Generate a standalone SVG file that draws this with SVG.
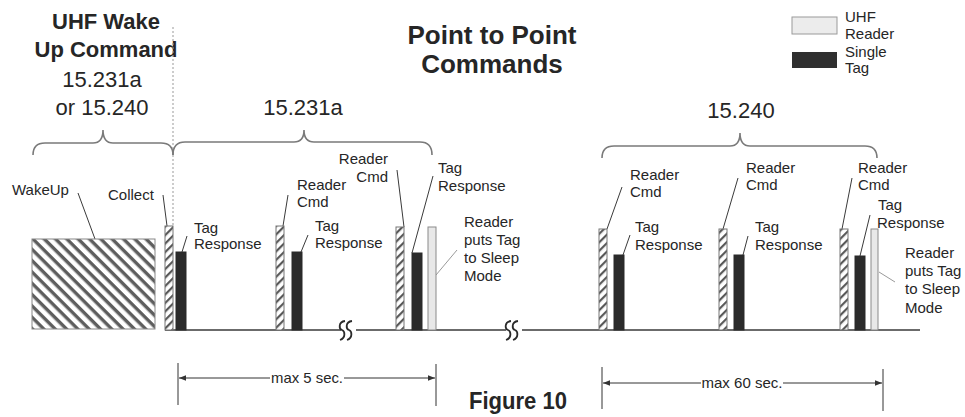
<svg xmlns="http://www.w3.org/2000/svg" width="965" height="417" viewBox="0 0 965 417">
<defs>
<style>
text{font-family:"Liberation Sans",Arial,sans-serif;fill:#262626}
.lbl{font-size:15px}
.big{font-size:22px}
.hd{font-size:22px;font-weight:bold}
.ttl{font-size:26px;font-weight:bold}
.dim{font-size:15px}
.lead{stroke:#3a3a3a;stroke-width:1;fill:none}
.leadl{stroke:#9a9a9a;stroke-width:1;fill:none}
.brace{stroke:#7a7a7a;stroke-width:1.6;fill:none}
.cmd{fill:url(#hatchSmall);stroke:#777;stroke-width:1}
.tag{fill:#2b2b2b;stroke:#2b2b2b;stroke-width:1}
.sleep{fill:#e8e8e8;stroke:#8a8a8a;stroke-width:1}
.axis{stroke:#3a3a3a;stroke-width:1.3;fill:none}
.brk{stroke:#2a2a2a;stroke-width:1.8;fill:none}
.dl{stroke:#333;stroke-width:1;fill:none}
</style>
<pattern id="hatchBig" patternUnits="userSpaceOnUse" width="10" height="8" patternTransform="rotate(45)">
<rect width="10" height="8" fill="#fff"/><rect width="10" height="3.4" fill="#5e5e5e"/>
</pattern>
<pattern id="hatchSmall" patternUnits="userSpaceOnUse" width="6" height="6" patternTransform="rotate(-45)">
<rect width="6" height="6" fill="#fff"/><rect width="6" height="2.2" fill="#585858"/>
</pattern>
<marker id="arr" viewBox="0 0 10 10" refX="10" refY="5" markerWidth="7" markerHeight="7" orient="auto-start-reverse" markerUnits="userSpaceOnUse">
<path d="M0,1 L10,5 L0,9 Z" fill="#333"/>
</marker>
</defs>
<rect width="965" height="417" fill="#fff"/>

<g id="headings">
<text class="hd" x="106" y="29" text-anchor="middle">UHF Wake</text>
<text class="hd" x="106" y="57" text-anchor="middle">Up Command</text>
<text class="big" x="102" y="87" text-anchor="middle">15.231a</text>
<text class="big" x="102" y="115" text-anchor="middle">or 15.240</text>
<text class="ttl" x="492" y="44" text-anchor="middle">Point to Point</text>
<text class="ttl" x="492" y="73" text-anchor="middle">Commands</text>
<text class="big" x="303" y="115" text-anchor="middle">15.231a</text>
<text class="big" x="741" y="118" text-anchor="middle">15.240</text>
</g>

<g id="legend">
<rect x="792" y="17" width="45" height="17" fill="#ececec" stroke="#9a9a9a" stroke-width="1"/>
<rect x="792" y="52" width="45" height="16" fill="#2f2f2f"/>
<text class="lbl" x="845" y="22">UHF</text>
<text class="lbl" x="845" y="39">Reader</text>
<text class="lbl" x="845" y="57">Single</text>
<text class="lbl" x="845" y="73">Tag</text>
</g>

<g id="connectors">
<line x1="173" y1="27" x2="173" y2="226" stroke="#999" stroke-width="1" stroke-dasharray="2,2"/>
<path class="brace" d="M33,155 Q33,143 45,143 L93,143 Q103,143 103,130 Q103,143 113,143 L161,143 Q173,143 173,155"/>
<path class="brace" d="M173,155 Q173,142 185,142 L294,142 Q304,142 304,130 Q304,142 314,142 L420,142 Q432,142 432,155"/>
<path class="brace" d="M602,158 Q602,146 614,146 L730,146 Q740,146 740,133 Q740,146 750,146 L865,146 Q877,146 877,158"/>
<line class="axis" x1="165" y1="330" x2="341" y2="330"/>
<line class="axis" x1="356" y1="330" x2="506" y2="330"/>
<line class="axis" x1="522" y1="330" x2="920" y2="330"/>
<path class="brk" d="M345,321 C338,322 339,329 342,330 C345,331 346,338 340,340"/>
<path class="brk" d="M352,321 C345,322 346,329 349,330 C352,331 353,338 347,340"/>
<path class="brk" d="M511,321 C504,322 505,329 508,330 C511,331 512,338 506,340"/>
<path class="brk" d="M518,321 C511,322 512,329 515,330 C518,331 519,338 513,340"/>
<path class="lead" d="M78,193 L95,239"/>
<path class="lead" d="M163,195 L167,226"/>
<path class="lead" d="M187,236 L182,252"/>
<path class="lead" d="M288,195 L283,226"/>
<path class="lead" d="M308,235 L301,252"/>
<path class="lead" d="M397,170 L404,227"/>
<path class="lead" d="M433,176 L412,253"/>
<path class="leadl" d="M457,250 L436,275"/>
<path class="lead" d="M622,187 L607,229"/>
<path class="lead" d="M630,235 L623,255"/>
<path class="lead" d="M738,178 L723,229"/>
<path class="lead" d="M748,236 L743,255"/>
<path class="lead" d="M852,178 L842,229"/>
<path class="lead" d="M870,215 L860,256"/>
<path class="leadl" d="M895,282 L879,272"/>
</g>

<g id="wakeup">
<rect x="32" y="239" width="123" height="90" fill="url(#hatchBig)" stroke="#888" stroke-width="1"/>
<text class="lbl" x="12" y="195">WakeUp</text>
</g>
<g id="collect">
<rect class="cmd" x="165" y="226" width="8" height="104"/>
<text class="lbl" x="108" y="200">Collect</text>
</g>
<g id="tag1">
<rect class="tag" x="176" y="252" width="10" height="78"/>
<text class="lbl" x="194" y="233">Tag</text>
<text class="lbl" x="194" y="249">Response</text>
</g>
<g id="cmd2">
<rect class="cmd" x="276" y="226" width="8" height="104"/>
<text class="lbl" x="297" y="190">Reader</text>
<text class="lbl" x="297" y="207">Cmd</text>
</g>
<g id="tag2">
<rect class="tag" x="292" y="252" width="10" height="78"/>
<text class="lbl" x="315" y="231">Tag</text>
<text class="lbl" x="315" y="248">Response</text>
</g>
<g id="cmd3">
<rect class="cmd" x="396" y="227" width="8" height="103"/>
<text class="lbl" x="388" y="164" text-anchor="end">Reader</text>
<text class="lbl" x="388" y="182" text-anchor="end">Cmd</text>
</g>
<g id="tag3">
<rect class="tag" x="412" y="253" width="10" height="77"/>
<text class="lbl" x="438" y="173">Tag</text>
<text class="lbl" x="438" y="191">Response</text>
</g>
<g id="sleep1">
<rect class="sleep" x="428" y="227" width="8" height="103"/>
<text class="lbl" x="464" y="227">Reader</text>
<text class="lbl" x="464" y="245">puts Tag</text>
<text class="lbl" x="464" y="263">to Sleep</text>
<text class="lbl" x="464" y="281">Mode</text>
</g>
<g id="cmdA">
<rect class="cmd" x="599" y="229" width="8" height="101"/>
<text class="lbl" x="630" y="180">Reader</text>
<text class="lbl" x="630" y="197">Cmd</text>
</g>
<g id="tagA">
<rect class="tag" x="614" y="255" width="10" height="75"/>
<text class="lbl" x="635" y="232">Tag</text>
<text class="lbl" x="635" y="250">Response</text>
</g>
<g id="cmdB">
<rect class="cmd" x="719" y="229" width="8" height="101"/>
<text class="lbl" x="746" y="173">Reader</text>
<text class="lbl" x="746" y="190">Cmd</text>
</g>
<g id="tagB">
<rect class="tag" x="734" y="255" width="10" height="75"/>
<text class="lbl" x="755" y="232">Tag</text>
<text class="lbl" x="755" y="250">Response</text>
</g>
<g id="cmdC">
<rect class="cmd" x="840" y="229" width="8" height="101"/>
<text class="lbl" x="858" y="173">Reader</text>
<text class="lbl" x="858" y="190">Cmd</text>
</g>
<g id="tagC">
<rect class="tag" x="855" y="256" width="10" height="74"/>
<text class="lbl" x="878" y="210">Tag</text>
<text class="lbl" x="877" y="228">Response</text>
</g>
<g id="sleep2">
<rect class="sleep" x="871" y="229" width="7" height="101"/>
<text class="lbl" x="905" y="258">Reader</text>
<text class="lbl" x="905" y="276">puts Tag</text>
<text class="lbl" x="905" y="294">to Sleep</text>
<text class="lbl" x="905" y="313">Mode</text>
</g>

<g id="dim5">
<line class="dl" x1="178" y1="363" x2="178" y2="405"/>
<line class="dl" x1="436" y1="364" x2="436" y2="406"/>
<line class="dl" x1="270" y1="378" x2="179" y2="378" marker-end="url(#arr)"/>
<line class="dl" x1="344" y1="378" x2="435" y2="378" marker-end="url(#arr)"/>
<text class="dim" x="307" y="383" text-anchor="middle" textLength="72" lengthAdjust="spacingAndGlyphs">max 5 sec.</text>
</g>
<g id="dim60">
<line class="dl" x1="602" y1="367" x2="602" y2="409"/>
<line class="dl" x1="883" y1="369" x2="883" y2="411"/>
<line class="dl" x1="701" y1="383" x2="603" y2="383" marker-end="url(#arr)"/>
<line class="dl" x1="783" y1="383" x2="882" y2="383" marker-end="url(#arr)"/>
<text class="dim" x="742" y="388" text-anchor="middle" textLength="81" lengthAdjust="spacingAndGlyphs">max 60 sec.</text>
</g>
<g id="caption">
<text x="518" y="409" text-anchor="middle" font-size="24" font-weight="bold" textLength="98" lengthAdjust="spacingAndGlyphs">Figure 10</text>
</g>
</svg>
